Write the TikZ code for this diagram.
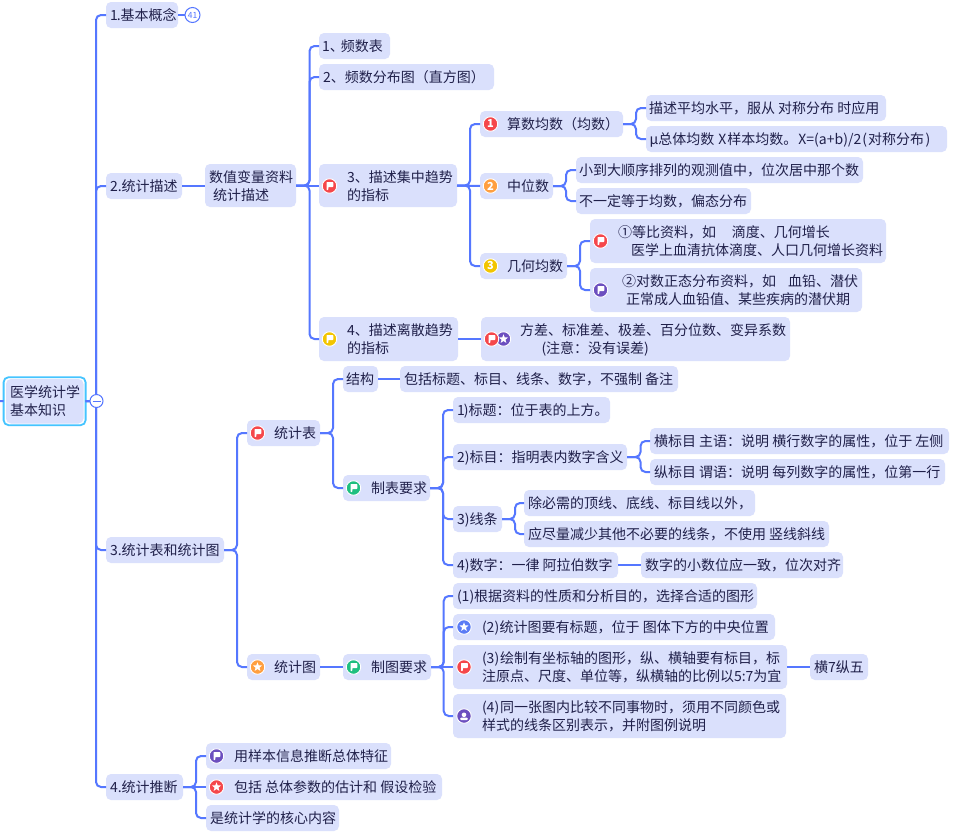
\documentclass[tikz,border=0pt]{standalone}
\usepackage{fontspec}
\usetikzlibrary{shapes.geometric,calc}
\setmainfont{Noto Sans CJK SC}
\definecolor{boxfill}{HTML}{DAE0FC}
\definecolor{linec}{HTML}{5577FF}
\definecolor{inkc}{HTML}{20204A}
\definecolor{rootc}{HTML}{45C4FF}
\definecolor{ired}{HTML}{F5474B}
\definecolor{iorange}{HTML}{FF9F40}
\definecolor{iyellow}{HTML}{F2C500}
\definecolor{ipurple}{HTML}{6C4FBF}
\definecolor{igreen}{HTML}{1FBF80}
\definecolor{iblue}{HTML}{5B7CF5}
\tikzset{
  box/.style={draw=none,fill=boxfill,rounded corners=5pt,inner sep=0pt,outer sep=0pt},
  txt/.style={inner sep=0pt,outer sep=0pt,text=inkc,anchor=base west,font=\fontsize{14}{18}\selectfont},
  conn/.style={draw=linec,line width=2pt,rounded corners=5pt},
  ico/.style={circle,draw=white,line width=0.9pt,inner sep=0pt,minimum size=14.5pt},
  icotxt/.style={inner sep=0pt,text=white,font=\fontsize{11}{11}\selectfont\bfseries},
}
% box without text
\newcommand{\bbx}[5]{\node[box,minimum width={#4pt-#2pt},minimum height={#5pt-#3pt}] (#1) at ({(#2+#4)/2},{-(#3+#5)/2}) {};}
% text line with baseline position
\newcommand{\tl}[4]{\node[txt] (#1) at (#2,{-(#3)}) {#4};}
% one-line box: name x0 y0 x1 y1 textx text
\newcommand{\bx}[7]{\bbx{#1}{#2}{#3}{#4}{#5}\tl{#1-t}{#6}{(#3+#5)/2+5}{#7}}
% two-line box: name x0 y0 x1 y1 x1 line1 x2 line2
\newcommand{\bxx}[9]{\bbx{#1}{#2}{#3}{#4}{#5}\tl{#1-a}{#6}{(#3+#5)/2-3.5}{#7}\tl{#1-b}{#8}{(#3+#5)/2+14.5}{#9}}
% icons
\newcommand{\icflag}[4]{\node[ico,fill=#4] (#1) at (#2,{-(#3)}) {};
  \begin{scope}[shift={(#2,{-(#3)})}]
  \fill[white,rounded corners=0.6pt] (-3,-4) -- (-3,4) -- (3.8,4) -- (3.8,-1) -- (-1.2,-1) -- (-1.2,-4) -- cycle;
  \end{scope}}
\newcommand{\icnum}[5]{\node[ico,fill=#4,icotxt] (#1) at (#2,{-(#3)}) {#5};}
\newcommand{\icstar}[4]{\node[ico,fill=#4] (#1) at (#2,{-(#3)}) {};
  \node[star,star points=5,star point ratio=2.3,fill=white,inner sep=0pt,minimum size=9.5pt] (#1-s) at (#2,{-(#3)}) {};}
\newcommand{\icuser}[4]{\node[ico,fill=#4] (#1) at (#2,{-(#3)}) {};
  \begin{scope}[shift={(#2,{-(#3)})}]
  \fill[white] (0,1.2) circle (2.3);
  \fill[white,rounded corners=1pt] (-3.8,-4) -- (-3.8,-1.6) -- (3.8,-1.6) -- (3.8,-4) -- cycle;
  \end{scope}}
\newcommand{\kid}[3]{\draw[conn] (#1.east) -- (#1.east -| #2) |- (#3.west);}
\newcommand{\str}[2]{\draw[conn] (#1.east) -- (#2.west);}
\begin{document}
\begin{tikzpicture}[x=1pt,y=1pt]
\useasboundingbox (0,0) rectangle (955,-833);
\fill[white] (0,0) rectangle (955,-833);
% trunks
\coordinate (tmain) at (96,0);
\coordinate (tnum) at (309.5,0);
\coordinate (tcen) at (470,0);
\coordinate (tavg) at (636,0);
\coordinate (tmed) at (566,0);
\coordinate (tgeo) at (580,0);
\coordinate (tsec) at (237,0);
\coordinate (ttab) at (333,0);
\coordinate (treq) at (443,0);
\coordinate (thd) at (640.5,0);
\coordinate (tlin) at (515,0);
\coordinate (tfig) at (443.7,0);
\coordinate (tinf) at (196,0);
% root
\node[box,draw=rootc,line width=1.8pt,fill=white,minimum width=82pt,minimum height=48pt] (rootout) at (44.6,-401.2) {};
\bbx{root}{6}{379}{83.5}{423.5}
\tl{root-a}{10}{397}{医学统计学}
\tl{root-b}{10}{415}{基本知识}
\coordinate (stub) at (0,-401);
% first level
\bx{a1}{106}{2}{178}{28}{110}{1\hspace{-1pt}.基本概念}
\bx{a2}{106}{173}{182}{199}{110}{2.统计描述}
\bx{a3}{106}{537}{224}{563}{110}{3.统计表和统计图}
\bx{a4}{106}{774}{183}{800}{110}{4.统计推断}
% section 2
\bxx{n}{205}{164}{296}{207}{209}{数值变量资料}{213}{统计描述}
\bx{b1}{319}{33}{390}{59}{322}{1、\hspace{-3pt}频数表}
\bx{b2}{319}{64}{494}{90}{323}{2、频数分布图（直方图）}
\bxx{b3}{319}{164}{457}{207}{347}{3、描述集中趋势}{347}{的指标}
\bxx{b4}{319}{317}{458}{361}{347}{4、描述离散趋势}{347}{的指标}
\bx{c1}{480}{111}{623}{137}{507}{算数均数（均数）}
\bx{c2}{480}{173}{553}{199}{507}{中位数}
\bx{c3}{480}{253}{567}{279}{507}{几何均数}
\bx{d1}{646}{95}{886}{121}{649}{描述平均水平，服从 对称分布 时应用}
\bx{d2}{646}{126}{947}{152}{649.5}{μ总体均数 \hspace{1pt}X\hspace{1pt}样本均数。\hspace{1pt}X=(a+b)/2\hspace{1pt}(\hspace{1pt}对称分布\hspace{1.5pt})}
\bx{d3}{576}{157}{863}{183}{579}{小到大顺序排列的观测值中，位次居中那个数}
\bx{d4}{576}{188}{751}{214}{579}{不一定等于均数，偏态分布}
\bxx{d5}{590}{219}{886}{263}{618}{①等比资料，如\hspace{16pt}滴度、几何增长}{631}{医学上血清抗体滴度、人口几何增长资料}
\bxx{d6}{590}{268}{862}{312}{622}{②对数正态分布资料，如\hspace{12pt}血铅、潜伏}{626}{正常成人血铅值、某些疾病的潜伏期}
\bxx{d7}{481}{317}{790}{361}{520}{方差、标准差、极差、百分位数、变异系数}{541.5}{(注意：没有误差)}
% section 3
\bx{e1}{247}{420}{320}{446}{274}{统计表}
\bx{e2}{247}{654}{320}{680}{274}{统计图}
\bx{f1}{343}{366}{378}{392}{346}{结构}
\bx{f2}{343}{475}{430}{501}{371}{制表要求}
\bx{f3}{343}{654}{431}{680}{371}{制图要求}
\bx{g0}{400}{366}{678}{392}{404}{包括标题、标目、线条、数字，不强制 备注}
\bx{g1}{453}{397}{610}{423}{457}{1\hspace{-1pt})标题：位于表的上方。}
\bx{g2}{453}{444}{627}{470}{457}{2)标目：指明表内数字含义}
\bx{g3}{453}{506}{502}{532}{457}{3)线条}
\bx{g4}{453}{552}{618}{578}{457}{4)数字：一律 阿拉伯数字}
\bx{h1}{650}{428}{949}{454}{654}{横标目 主语：说明 横行数字的属性，位于 左侧}
\bx{h2}{650}{459}{945}{485}{654}{纵标目 谓语：说明 每列数字的属性，位第一行}
\bx{h3}{524}{490}{755}{516}{528}{除必需的顶线、底线、标目线以外，}
\bx{h4}{524}{521}{829}{547}{528}{应尽量减少其他不必要的线条，不使用 竖线斜线}
\bx{h5}{641}{552}{843}{578}{645}{数字的小数位应一致，位次对齐}
\bx{k1}{453}{583}{757}{609}{457}{(1)根据资料的性质和分析目的，选择合适的图形}
\bx{k2}{453}{614}{775}{640}{482}{(2)\hspace{0.5pt}统计图要有标题，位于 图体下方的中央位置}
\bxx{k3}{453}{645}{787}{689}{482}{(3)\hspace{1pt}绘制有坐标轴的图形，纵、横轴要有标目，标}{482}{注原点、尺度、单位等，纵横轴的比例以5:7为宜}
\bxx{k4}{453}{694}{786}{738}{482}{(4)\hspace{1pt}同一张图内比较不同事物时，须用不同颜色或}{482}{样式的线条区别表示，并附图例说明}
\bx{k5}{810}{654}{868}{680}{814}{横7纵五}
% section 4
\bx{m1}{206}{743}{391}{769}{234}{用样本信息推断总体特征}
\bx{m2}{206}{774}{442}{800}{234}{包括 总体参数的估计和 假设检验}
\bx{m3}{206}{805}{339}{831}{210}{是统计学的核心内容}
% connectors
\draw[conn] (stub) -- (rootout.west);
\draw[conn] (rootout.east) -- (rootout.east -| tmain);
\kid{rootout}{tmain}{a1}
\kid{rootout}{tmain}{a2}
\kid{rootout}{tmain}{a3}
\kid{rootout}{tmain}{a4}
\draw[conn] (a2.east) -- (a2.east -| n.west);
\kid{n}{tnum}{b1}
\kid{n}{tnum}{b2}
\str{n}{b3}
\kid{n}{tnum}{b4}
\kid{b3}{tcen}{c1}
\str{b3}{c2}
\kid{b3}{tcen}{c3}
\kid{c1}{tavg}{d1}
\kid{c1}{tavg}{d2}
\kid{c2}{tmed}{d3}
\kid{c2}{tmed}{d4}
\kid{c3}{tgeo}{d5}
\kid{c3}{tgeo}{d6}
\str{b4}{d7}
\kid{a3}{tsec}{e1}
\kid{a3}{tsec}{e2}
\kid{e1}{ttab}{f1}
\kid{e1}{ttab}{f2}
\str{f1}{g0}
\kid{f2}{treq}{g1}
\kid{f2}{treq}{g2}
\kid{f2}{treq}{g3}
\kid{f2}{treq}{g4}
\kid{g2}{thd}{h1}
\kid{g2}{thd}{h2}
\kid{g3}{tlin}{h3}
\kid{g3}{tlin}{h4}
\str{g4}{h5}
\str{e2}{f3}
\kid{f3}{tfig}{k1}
\kid{f3}{tfig}{k2}
\str{f3}{k3}
\kid{f3}{tfig}{k4}
\str{k3}{k5}
\kid{a4}{tinf}{m1}
\str{a4}{m2}
\kid{a4}{tinf}{m3}
% badges
\node[circle,draw=linec,line width=1pt,fill=white,minimum size=15pt,inner sep=0pt,text=linec,font=\fontsize{8.5}{8.5}\selectfont] (badge) at (192.5,-15) {41};
\draw[conn] (a1.east) -- (badge.west);
\node[circle,draw=linec,line width=1pt,fill=white,minimum size=13pt,inner sep=0pt] (fold) at (96.5,-401) {};
\draw[draw=linec,line width=1pt] ([xshift=-4pt]fold.center) -- ([xshift=4pt]fold.center);
% icons
\icflag{i1}{329.5}{186}{ired}
\icflag{i2}{329.5}{339}{iyellow}
\icnum{i3}{490.5}{124}{ired}{1}
\icnum{i4}{490.5}{186}{iorange}{2}
\icnum{i5}{490.5}{266}{iyellow}{3}
\icflag{i6}{600.5}{241}{ired}
\icflag{i7}{600.5}{290}{ipurple}
\icstar{i9}{503.5}{339}{ipurple}
\icflag{i8}{491.5}{339}{ired}
\icflag{i10}{257.5}{433}{ired}
\icflag{i11}{353.5}{488}{igreen}
\icstar{i12}{257.5}{667}{iorange}
\icflag{i13}{353.5}{667}{igreen}
\icstar{i14}{464}{627}{iblue}
\icflag{i15}{464}{667}{ired}
\icuser{i16}{464}{716}{ipurple}
\icflag{i17}{216.5}{756}{ipurple}
\icstar{i18}{216.5}{787}{ired}
\end{tikzpicture}
\end{document}
